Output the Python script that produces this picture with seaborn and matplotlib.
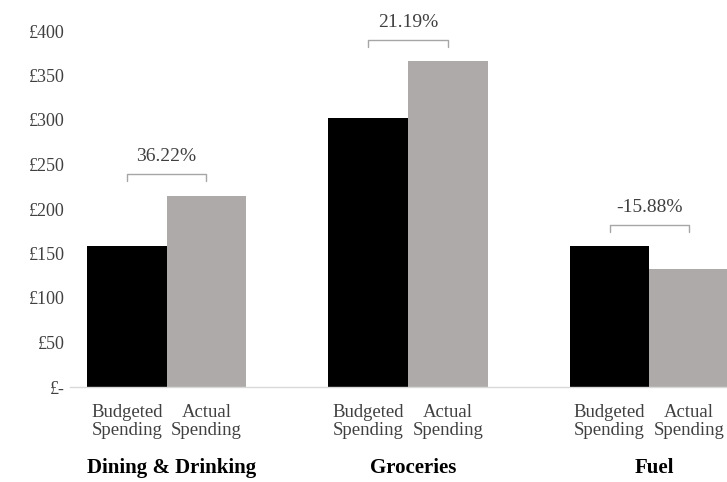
import matplotlib
matplotlib.use("Agg")
import matplotlib.pyplot as plt
import matplotlib.transforms as mtransforms
import pandas as pd
import seaborn as sns

# data
categories = ["Dining & Drinking", "Groceries", "Fuel"]
series = ["Budgeted Spending", "Actual Spending"]
budgeted = [158, 302, 158]
actual = [215, 366, 133]
change_labels = ["36.22%", "21.19%", "-15.88%"]
bar_labels = ["Budgeted\nSpending", "Actual\nSpending"]
y_ticks = [0, 50, 100, 150, 200, 250, 300, 350, 400]
y_tick_labels = ["£-", "£50", "£100", "£150", "£200", "£250", "£300", "£350", "£400"]

colors = {"Budgeted Spending": "#000000", "Actual Spending": "#AEAAAA"}
text_color = "#404040"

df = pd.DataFrame({
    "category": categories * 2,
    "series": [series[0]] * 3 + [series[1]] * 3,
    "value": budgeted + actual,
})

sns.set_style("white")
plt.rcParams["font.family"] = ["Liberation Serif", "DejaVu Serif"]

fig = plt.figure(figsize=(7.27, 4.82), dpi=100)
ax = fig.add_axes([70 / 727, 95 / 482, 676 / 727, 356 / 482])

sns.barplot(data=df, x="category", y="value", hue="series", order=categories,
            hue_order=series, palette=colors, width=0.66, saturation=1,
            linewidth=0, legend=False, ax=ax, errorbar=None)

ax.set_xlim(-0.4, 2.4)
ax.set_ylim(0, 400)
ax.set_yticks(y_ticks)
ax.set_yticklabels(y_tick_labels)
ax.set_xlabel("")
ax.set_ylabel("")

for s in ["top", "right", "left"]:
    ax.spines[s].set_visible(False)
ax.spines["bottom"].set_color("#D9D9D9")
ax.spines["bottom"].set_linewidth(1)
ax.tick_params(axis="y", length=0, pad=4, labelsize=13, labelcolor=text_color)

# bar centres from the drawn patches
patches = [p for p in ax.patches if p.get_height() > 0]
centres = sorted(p.get_x() + p.get_width() / 2 for p in patches)
ax.set_xticks(centres)
ax.set_xticklabels(bar_labels * len(categories), linespacing=1.1)
ax.tick_params(axis="x", length=0, pad=12, labelsize=13.5, labelcolor=text_color)

# category names under the pairs
trans = mtransforms.blended_transform_factory(ax.transData, ax.transAxes)
for i, cat in enumerate(categories):
    ax.text(i + 0.02, -0.228, cat, transform=trans, ha="center", va="center",
            fontsize=15, fontweight="bold", color="#000000")

# brackets with the percentage change
for i in range(len(categories)):
    x0, x1 = centres[2 * i], centres[2 * i + 1]
    top = max(budgeted[i], actual[i]) + 24
    ax.plot([x0, x0, x1, x1], [top - 8, top, top, top - 8],
            color="#A6A6A6", lw=1, clip_on=False)
    ax.text((x0 + x1) / 2, top + 20, change_labels[i], ha="center", va="center",
            fontsize=14, color=text_color, clip_on=False)

fig.savefig("out.png", dpi=100)
